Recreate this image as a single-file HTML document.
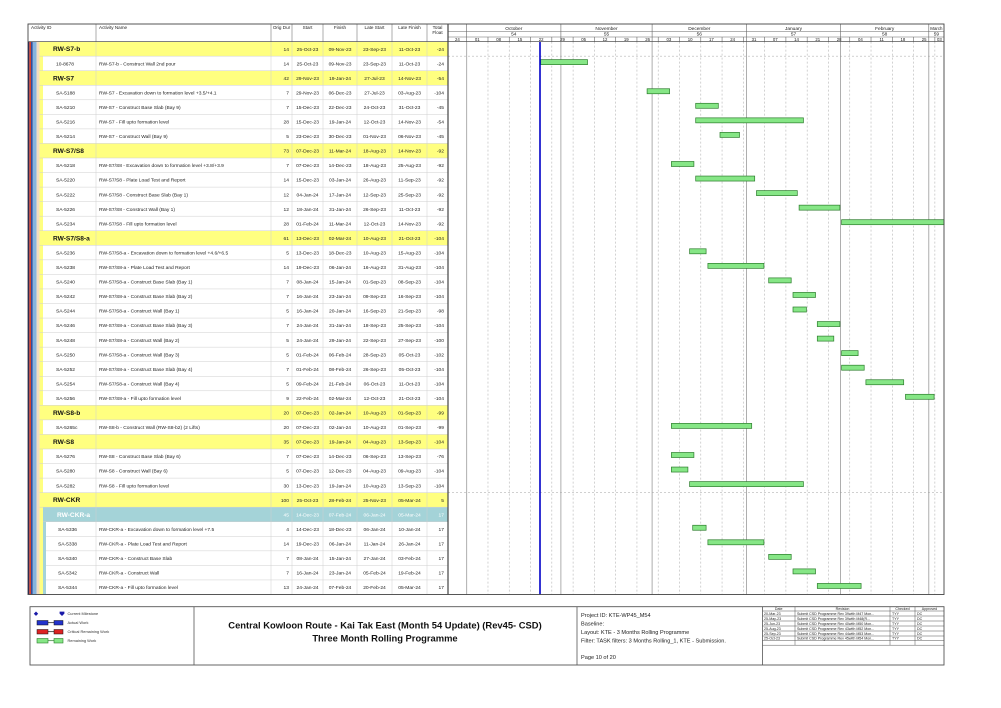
<!DOCTYPE html>
<html><head><meta charset="utf-8">
<style>
html,body{margin:0;padding:0;background:#fff;}
svg{display:block;font-family:"Liberation Sans",Arial,sans-serif;}
.t{font-size:4.9px;fill:#222;}
.g{font-size:6.6px;font-weight:bold;fill:#111;}
.gw{font-size:6.6px;font-weight:bold;fill:#fff;}
.tw{font-size:4.9px;fill:#fff;}
.e{text-anchor:end;}
.c{text-anchor:middle;}
.h{font-size:4.6px;fill:#222;}
.m{font-size:4.8px;fill:#222;text-anchor:middle;}
.d{font-size:4.3px;fill:#222;text-anchor:middle;}
.b{fill:#86e686;stroke:#2c7d2c;stroke-width:0.7;}
.lg{font-size:3.9px;fill:#333;}
.rv{font-size:3.6px;fill:#222;}
.pj{font-size:5.6px;fill:#222;}
.ti{font-size:9.4px;font-weight:bold;fill:#111;text-anchor:middle;}
</style></head><body>
<svg width="1001" height="708" viewBox="0 0 1001 708" xmlns="http://www.w3.org/2000/svg">
<rect width="1001" height="708" fill="#fff"/>

<!-- left strip -->
<rect x="28" y="41.6" width="1.3" height="552.9" fill="#1b1b5e"/>
<rect x="29.3" y="41.6" width="1.7" height="552.9" fill="#d8432e"/>
<rect x="31" y="41.6" width="1.8" height="552.9" fill="#2e4f9e"/>
<rect x="32.8" y="41.6" width="3.8" height="552.9" fill="#86b4de"/>
<rect x="36.6" y="41.6" width="2.9" height="552.9" fill="#f3dcc0"/>
<rect x="39.5" y="41.6" width="3.5" height="552.9" fill="#ffff80"/>
<rect x="43" y="507.2" width="3" height="87.3" fill="#a4d3d8"/>

<!-- group rows backgrounds -->
<g fill="#ffff80">
<rect x="39.5" y="41.6" width="408.5" height="14.55"/>
<rect x="39.5" y="70.7" width="408.5" height="14.55"/>
<rect x="39.5" y="143.45" width="408.5" height="14.55"/>
<rect x="39.5" y="230.75" width="408.5" height="14.55"/>
<rect x="39.5" y="405.35" width="408.5" height="14.55"/>
<rect x="39.5" y="434.45" width="408.5" height="14.55"/>
<rect x="39.5" y="492.65" width="408.5" height="14.55"/>
</g>
<rect x="43" y="507.2" width="405" height="14.55" fill="#a4d3d8"/>

<!-- row separators -->
<g stroke="#cfcfcf" stroke-width="0.5">
<line x1="39.5" y1="56.15" x2="448" y2="56.15"/>
<line x1="39.5" y1="70.7" x2="448" y2="70.7"/>
<line x1="39.5" y1="85.25" x2="448" y2="85.25"/>
<line x1="39.5" y1="99.8" x2="448" y2="99.8"/>
<line x1="39.5" y1="114.35" x2="448" y2="114.35"/>
<line x1="39.5" y1="128.9" x2="448" y2="128.9"/>
<line x1="39.5" y1="143.45" x2="448" y2="143.45"/>
<line x1="39.5" y1="158" x2="448" y2="158"/>
<line x1="39.5" y1="172.55" x2="448" y2="172.55"/>
<line x1="39.5" y1="187.1" x2="448" y2="187.1"/>
<line x1="39.5" y1="201.65" x2="448" y2="201.65"/>
<line x1="39.5" y1="216.2" x2="448" y2="216.2"/>
<line x1="39.5" y1="230.75" x2="448" y2="230.75"/>
<line x1="39.5" y1="245.3" x2="448" y2="245.3"/>
<line x1="39.5" y1="259.85" x2="448" y2="259.85"/>
<line x1="39.5" y1="274.4" x2="448" y2="274.4"/>
<line x1="39.5" y1="288.95" x2="448" y2="288.95"/>
<line x1="39.5" y1="303.5" x2="448" y2="303.5"/>
<line x1="39.5" y1="318.05" x2="448" y2="318.05"/>
<line x1="39.5" y1="332.6" x2="448" y2="332.6"/>
<line x1="39.5" y1="347.15" x2="448" y2="347.15"/>
<line x1="39.5" y1="361.7" x2="448" y2="361.7"/>
<line x1="39.5" y1="376.25" x2="448" y2="376.25"/>
<line x1="39.5" y1="390.8" x2="448" y2="390.8"/>
<line x1="39.5" y1="405.35" x2="448" y2="405.35"/>
<line x1="39.5" y1="419.9" x2="448" y2="419.9"/>
<line x1="39.5" y1="434.45" x2="448" y2="434.45"/>
<line x1="39.5" y1="449" x2="448" y2="449"/>
<line x1="39.5" y1="463.55" x2="448" y2="463.55"/>
<line x1="39.5" y1="478.1" x2="448" y2="478.1"/>
<line x1="39.5" y1="492.65" x2="448" y2="492.65"/>
<line x1="39.5" y1="507.2" x2="448" y2="507.2"/>
<line x1="43" y1="521.75" x2="448" y2="521.75"/>
<line x1="46" y1="536.3" x2="448" y2="536.3"/>
<line x1="46" y1="550.85" x2="448" y2="550.85"/>
<line x1="46" y1="565.4" x2="448" y2="565.4"/>
<line x1="46" y1="579.95" x2="448" y2="579.95"/>
</g>
<!-- body column dividers -->
<g stroke="#cfcfcf" stroke-width="0.5">
<line x1="96" y1="41.6" x2="96" y2="594.5"/>
<line x1="271" y1="41.6" x2="271" y2="594.5"/>
<line x1="292" y1="41.6" x2="292" y2="594.5"/>
<line x1="323" y1="41.6" x2="323" y2="594.5"/>
<line x1="357" y1="41.6" x2="357" y2="594.5"/>
<line x1="392" y1="41.6" x2="392" y2="594.5"/>
<line x1="427" y1="41.6" x2="427" y2="594.5"/>
</g>

<!-- gantt grid -->
<g stroke="#b4b4b4" stroke-width="0.6" stroke-dasharray="2 2">
<line x1="487.98" y1="41.6" x2="487.98" y2="594.5"/>
<line x1="509.26" y1="41.6" x2="509.26" y2="594.5"/>
<line x1="530.54" y1="41.6" x2="530.54" y2="594.5"/>
<line x1="551.82" y1="41.6" x2="551.82" y2="594.5"/>
<line x1="573.1" y1="41.6" x2="573.1" y2="594.5"/>
<line x1="594.38" y1="41.6" x2="594.38" y2="594.5"/>
<line x1="615.66" y1="41.6" x2="615.66" y2="594.5"/>
<line x1="636.94" y1="41.6" x2="636.94" y2="594.5"/>
<line x1="658.22" y1="41.6" x2="658.22" y2="594.5"/>
<line x1="679.5" y1="41.6" x2="679.5" y2="594.5"/>
<line x1="700.78" y1="41.6" x2="700.78" y2="594.5"/>
<line x1="722.06" y1="41.6" x2="722.06" y2="594.5"/>
<line x1="743.34" y1="41.6" x2="743.34" y2="594.5"/>
<line x1="764.62" y1="41.6" x2="764.62" y2="594.5"/>
<line x1="785.9" y1="41.6" x2="785.9" y2="594.5"/>
<line x1="807.18" y1="41.6" x2="807.18" y2="594.5"/>
<line x1="828.46" y1="41.6" x2="828.46" y2="594.5"/>
<line x1="849.74" y1="41.6" x2="849.74" y2="594.5"/>
<line x1="871.02" y1="41.6" x2="871.02" y2="594.5"/>
<line x1="892.3" y1="41.6" x2="892.3" y2="594.5"/>
<line x1="913.58" y1="41.6" x2="913.58" y2="594.5"/>
<line x1="934.86" y1="41.6" x2="934.86" y2="594.5"/>
<line x1="448" y1="56.15" x2="944" y2="56.15"/>
<line x1="448" y1="492.65" x2="944" y2="492.65"/>
</g>
<g stroke="#9a9a9a" stroke-width="0.8">
<line x1="466.7" y1="41.6" x2="466.7" y2="594.5"/>
<line x1="560.9" y1="41.6" x2="560.9" y2="594.5"/>
<line x1="652.1" y1="41.6" x2="652.1" y2="594.5"/>
<line x1="746.4" y1="41.6" x2="746.4" y2="594.5"/>
<line x1="840.6" y1="41.6" x2="840.6" y2="594.5"/>
<line x1="928.8" y1="41.6" x2="928.8" y2="594.5"/>
</g>

<!-- ROWS -->
<g transform="translate(0,41.6)">
<text x="53" y="9.6" class="g">RW-S7-b</text>
<text x="289" y="9.2" class="t e">14</text><text x="307.5" y="9.2" class="t c">25-Oct-23</text><text x="340" y="9.2" class="t c">09-Nov-23</text><text x="374.5" y="9.2" class="t c">23-Sep-23</text><text x="409.5" y="9.2" class="t c">11-Oct-23</text><text x="444" y="9.2" class="t e">-24</text>
</g>
<g transform="translate(0,56.15)">
<text x="56" y="9.2" class="t">10-8678</text><text x="99" y="9.2" class="t">RW-S7-b - Construct Wall 2nd pour</text>
<text x="289" y="9.2" class="t e">14</text><text x="307.5" y="9.2" class="t c">25-Oct-23</text><text x="340" y="9.2" class="t c">09-Nov-23</text><text x="374.5" y="9.2" class="t c">23-Sep-23</text><text x="409.5" y="9.2" class="t c">11-Oct-23</text><text x="444" y="9.2" class="t e">-24</text>
<rect x="540.7" y="3.5" width="46.8" height="5" class="b"/>
</g>
<g transform="translate(0,70.7)">
<text x="53" y="9.6" class="g">RW-S7</text>
<text x="289" y="9.2" class="t e">42</text><text x="307.5" y="9.2" class="t c">29-Nov-23</text><text x="340" y="9.2" class="t c">19-Jan-24</text><text x="374.5" y="9.2" class="t c">27-Jul-23</text><text x="409.5" y="9.2" class="t c">14-Nov-23</text><text x="444" y="9.2" class="t e">-54</text>
</g>
<g transform="translate(0,85.25)">
<text x="56" y="9.2" class="t">SA-5188</text><text x="99" y="9.2" class="t">RW-S7 - Excavation down to formation level +3.5/+4.1</text>
<text x="289" y="9.2" class="t e">7</text><text x="307.5" y="9.2" class="t c">29-Nov-23</text><text x="340" y="9.2" class="t c">06-Dec-23</text><text x="374.5" y="9.2" class="t c">27-Jul-23</text><text x="409.5" y="9.2" class="t c">03-Aug-23</text><text x="444" y="9.2" class="t e">-104</text>
<rect x="647.1" y="3.5" width="22.5" height="5" class="b"/>
</g>
<g transform="translate(0,99.8)">
<text x="56" y="9.2" class="t">SA-5210</text><text x="99" y="9.2" class="t">RW-S7 - Construct Base Slab (Bay 9)</text>
<text x="289" y="9.2" class="t e">7</text><text x="307.5" y="9.2" class="t c">15-Dec-23</text><text x="340" y="9.2" class="t c">22-Dec-23</text><text x="374.5" y="9.2" class="t c">24-Oct-23</text><text x="409.5" y="9.2" class="t c">31-Oct-23</text><text x="444" y="9.2" class="t e">-45</text>
<rect x="695.7" y="3.5" width="22.6" height="5" class="b"/>
</g>
<g transform="translate(0,114.35)">
<text x="56" y="9.2" class="t">SA-5216</text><text x="99" y="9.2" class="t">RW-S7 - Fill upto formation level</text>
<text x="289" y="9.2" class="t e">28</text><text x="307.5" y="9.2" class="t c">15-Dec-23</text><text x="340" y="9.2" class="t c">19-Jan-24</text><text x="374.5" y="9.2" class="t c">12-Oct-23</text><text x="409.5" y="9.2" class="t c">14-Nov-23</text><text x="444" y="9.2" class="t e">-54</text>
<rect x="695.7" y="3.5" width="107.7" height="5" class="b"/>
</g>
<g transform="translate(0,128.9)">
<text x="56" y="9.2" class="t">SA-5214</text><text x="99" y="9.2" class="t">RW-S7 - Construct Wall (Bay 9)</text>
<text x="289" y="9.2" class="t e">5</text><text x="307.5" y="9.2" class="t c">23-Dec-23</text><text x="340" y="9.2" class="t c">30-Dec-23</text><text x="374.5" y="9.2" class="t c">01-Nov-23</text><text x="409.5" y="9.2" class="t c">06-Nov-23</text><text x="444" y="9.2" class="t e">-45</text>
<rect x="720" y="3.5" width="19.5" height="5" class="b"/>
</g>
<g transform="translate(0,143.45)">
<text x="53" y="9.6" class="g">RW-S7/S8</text>
<text x="289" y="9.2" class="t e">73</text><text x="307.5" y="9.2" class="t c">07-Dec-23</text><text x="340" y="9.2" class="t c">11-Mar-24</text><text x="374.5" y="9.2" class="t c">18-Aug-23</text><text x="409.5" y="9.2" class="t c">14-Nov-23</text><text x="444" y="9.2" class="t e">-92</text>
</g>
<g transform="translate(0,158)">
<text x="56" y="9.2" class="t">SA-5218</text><text x="99" y="9.2" class="t">RW-S7/S8 - Excavation down to formation level +3.8/+3.9</text>
<text x="289" y="9.2" class="t e">7</text><text x="307.5" y="9.2" class="t c">07-Dec-23</text><text x="340" y="9.2" class="t c">14-Dec-23</text><text x="374.5" y="9.2" class="t c">18-Aug-23</text><text x="409.5" y="9.2" class="t c">25-Aug-23</text><text x="444" y="9.2" class="t e">-92</text>
<rect x="671.4" y="3.5" width="22.5" height="5" class="b"/>
</g>
<g transform="translate(0,172.55)">
<text x="56" y="9.2" class="t">SA-5220</text><text x="99" y="9.2" class="t">RW-S7/S8 - Plate Load Test and Report</text>
<text x="289" y="9.2" class="t e">14</text><text x="307.5" y="9.2" class="t c">15-Dec-23</text><text x="340" y="9.2" class="t c">03-Jan-24</text><text x="374.5" y="9.2" class="t c">26-Aug-23</text><text x="409.5" y="9.2" class="t c">11-Sep-23</text><text x="444" y="9.2" class="t e">-92</text>
<rect x="695.7" y="3.5" width="59" height="5" class="b"/>
</g>
<g transform="translate(0,187.1)">
<text x="56" y="9.2" class="t">SA-5222</text><text x="99" y="9.2" class="t">RW-S7/S8 - Construct Base Slab (Bay 1)</text>
<text x="289" y="9.2" class="t e">12</text><text x="307.5" y="9.2" class="t c">04-Jan-24</text><text x="340" y="9.2" class="t c">17-Jan-24</text><text x="374.5" y="9.2" class="t c">12-Sep-23</text><text x="409.5" y="9.2" class="t c">25-Sep-23</text><text x="444" y="9.2" class="t e">-92</text>
<rect x="756.5" y="3.5" width="40.8" height="5" class="b"/>
</g>
<g transform="translate(0,201.65)">
<text x="56" y="9.2" class="t">SA-5226</text><text x="99" y="9.2" class="t">RW-S7/S8 - Construct Wall (Bay 1)</text>
<text x="289" y="9.2" class="t e">12</text><text x="307.5" y="9.2" class="t c">18-Jan-24</text><text x="340" y="9.2" class="t c">31-Jan-24</text><text x="374.5" y="9.2" class="t c">26-Sep-23</text><text x="409.5" y="9.2" class="t c">11-Oct-23</text><text x="444" y="9.2" class="t e">-92</text>
<rect x="799.1" y="3.5" width="40.8" height="5" class="b"/>
</g>
<g transform="translate(0,216.2)">
<text x="56" y="9.2" class="t">SA-5234</text><text x="99" y="9.2" class="t">RW-S7/S8 - Fill upto formation level</text>
<text x="289" y="9.2" class="t e">28</text><text x="307.5" y="9.2" class="t c">01-Feb-24</text><text x="340" y="9.2" class="t c">11-Mar-24</text><text x="374.5" y="9.2" class="t c">12-Oct-23</text><text x="409.5" y="9.2" class="t c">14-Nov-23</text><text x="444" y="9.2" class="t e">-92</text>
<rect x="841.6" y="3.5" width="102.4" height="5" class="b"/>
</g>
<g transform="translate(0,230.75)">
<text x="53" y="9.6" class="g">RW-S7/S8-a</text>
<text x="289" y="9.2" class="t e">61</text><text x="307.5" y="9.2" class="t c">13-Dec-23</text><text x="340" y="9.2" class="t c">02-Mar-24</text><text x="374.5" y="9.2" class="t c">10-Aug-23</text><text x="409.5" y="9.2" class="t c">21-Oct-23</text><text x="444" y="9.2" class="t e">-104</text>
</g>
<g transform="translate(0,245.3)">
<text x="56" y="9.2" class="t">SA-5236</text><text x="99" y="9.2" class="t">RW-S7/S8-a - Excavation down to formation level +4.6/+6.5</text>
<text x="289" y="9.2" class="t e">5</text><text x="307.5" y="9.2" class="t c">13-Dec-23</text><text x="340" y="9.2" class="t c">18-Dec-23</text><text x="374.5" y="9.2" class="t c">10-Aug-23</text><text x="409.5" y="9.2" class="t c">15-Aug-23</text><text x="444" y="9.2" class="t e">-104</text>
<rect x="689.6" y="3.5" width="16.5" height="5" class="b"/>
</g>
<g transform="translate(0,259.85)">
<text x="56" y="9.2" class="t">SA-5238</text><text x="99" y="9.2" class="t">RW-S7/S8-a - Plate Load Test and Report</text>
<text x="289" y="9.2" class="t e">14</text><text x="307.5" y="9.2" class="t c">19-Dec-23</text><text x="340" y="9.2" class="t c">06-Jan-24</text><text x="374.5" y="9.2" class="t c">16-Aug-23</text><text x="409.5" y="9.2" class="t c">31-Aug-23</text><text x="444" y="9.2" class="t e">-104</text>
<rect x="707.9" y="3.5" width="56" height="5" class="b"/>
</g>
<g transform="translate(0,274.4)">
<text x="56" y="9.2" class="t">SA-5240</text><text x="99" y="9.2" class="t">RW-S7/S8-a - Construct Base Slab (Bay 1)</text>
<text x="289" y="9.2" class="t e">7</text><text x="307.5" y="9.2" class="t c">08-Jan-24</text><text x="340" y="9.2" class="t c">15-Jan-24</text><text x="374.5" y="9.2" class="t c">01-Sep-23</text><text x="409.5" y="9.2" class="t c">08-Sep-23</text><text x="444" y="9.2" class="t e">-104</text>
<rect x="768.7" y="3.5" width="22.5" height="5" class="b"/>
</g>
<g transform="translate(0,288.95)">
<text x="56" y="9.2" class="t">SA-5242</text><text x="99" y="9.2" class="t">RW-S7/S8-a - Construct Base Slab (Bay 2)</text>
<text x="289" y="9.2" class="t e">7</text><text x="307.5" y="9.2" class="t c">16-Jan-24</text><text x="340" y="9.2" class="t c">23-Jan-24</text><text x="374.5" y="9.2" class="t c">09-Sep-23</text><text x="409.5" y="9.2" class="t c">16-Sep-23</text><text x="444" y="9.2" class="t e">-104</text>
<rect x="793" y="3.5" width="22.5" height="5" class="b"/>
</g>
<g transform="translate(0,303.5)">
<text x="56" y="9.2" class="t">SA-5244</text><text x="99" y="9.2" class="t">RW-S7/S8-a - Construct Wall (Bay 1)</text>
<text x="289" y="9.2" class="t e">5</text><text x="307.5" y="9.2" class="t c">16-Jan-24</text><text x="340" y="9.2" class="t c">20-Jan-24</text><text x="374.5" y="9.2" class="t c">16-Sep-23</text><text x="409.5" y="9.2" class="t c">21-Sep-23</text><text x="444" y="9.2" class="t e">-98</text>
<rect x="793" y="3.5" width="13.4" height="5" class="b"/>
</g>
<g transform="translate(0,318.05)">
<text x="56" y="9.2" class="t">SA-5246</text><text x="99" y="9.2" class="t">RW-S7/S8-a - Construct Base Slab (Bay 3)</text>
<text x="289" y="9.2" class="t e">7</text><text x="307.5" y="9.2" class="t c">24-Jan-24</text><text x="340" y="9.2" class="t c">31-Jan-24</text><text x="374.5" y="9.2" class="t c">18-Sep-23</text><text x="409.5" y="9.2" class="t c">25-Sep-23</text><text x="444" y="9.2" class="t e">-104</text>
<rect x="817.3" y="3.5" width="22.6" height="5" class="b"/>
</g>
<g transform="translate(0,332.6)">
<text x="56" y="9.2" class="t">SA-5248</text><text x="99" y="9.2" class="t">RW-S7/S8-a - Construct Wall (Bay 2)</text>
<text x="289" y="9.2" class="t e">5</text><text x="307.5" y="9.2" class="t c">24-Jan-24</text><text x="340" y="9.2" class="t c">29-Jan-24</text><text x="374.5" y="9.2" class="t c">22-Sep-23</text><text x="409.5" y="9.2" class="t c">27-Sep-23</text><text x="444" y="9.2" class="t e">-100</text>
<rect x="817.3" y="3.5" width="16.5" height="5" class="b"/>
</g>
<g transform="translate(0,347.15)">
<text x="56" y="9.2" class="t">SA-5250</text><text x="99" y="9.2" class="t">RW-S7/S8-a - Construct Wall (Bay 3)</text>
<text x="289" y="9.2" class="t e">5</text><text x="307.5" y="9.2" class="t c">01-Feb-24</text><text x="340" y="9.2" class="t c">06-Feb-24</text><text x="374.5" y="9.2" class="t c">28-Sep-23</text><text x="409.5" y="9.2" class="t c">05-Oct-23</text><text x="444" y="9.2" class="t e">-102</text>
<rect x="841.6" y="3.5" width="16.5" height="5" class="b"/>
</g>
<g transform="translate(0,361.7)">
<text x="56" y="9.2" class="t">SA-5252</text><text x="99" y="9.2" class="t">RW-S7/S8-a - Construct Base Slab (Bay 4)</text>
<text x="289" y="9.2" class="t e">7</text><text x="307.5" y="9.2" class="t c">01-Feb-24</text><text x="340" y="9.2" class="t c">08-Feb-24</text><text x="374.5" y="9.2" class="t c">26-Sep-23</text><text x="409.5" y="9.2" class="t c">05-Oct-23</text><text x="444" y="9.2" class="t e">-104</text>
<rect x="841.6" y="3.5" width="22.6" height="5" class="b"/>
</g>
<g transform="translate(0,376.25)">
<text x="56" y="9.2" class="t">SA-5254</text><text x="99" y="9.2" class="t">RW-S7/S8-a - Construct Wall (Bay 4)</text>
<text x="289" y="9.2" class="t e">5</text><text x="307.5" y="9.2" class="t c">09-Feb-24</text><text x="340" y="9.2" class="t c">21-Feb-24</text><text x="374.5" y="9.2" class="t c">06-Oct-23</text><text x="409.5" y="9.2" class="t c">11-Oct-23</text><text x="444" y="9.2" class="t e">-104</text>
<rect x="865.9" y="3.5" width="37.8" height="5" class="b"/>
</g>
<g transform="translate(0,390.8)">
<text x="56" y="9.2" class="t">SA-5256</text><text x="99" y="9.2" class="t">RW-S7/S8-a - Fill upto formation level</text>
<text x="289" y="9.2" class="t e">9</text><text x="307.5" y="9.2" class="t c">22-Feb-24</text><text x="340" y="9.2" class="t c">02-Mar-24</text><text x="374.5" y="9.2" class="t c">12-Oct-23</text><text x="409.5" y="9.2" class="t c">21-Oct-23</text><text x="444" y="9.2" class="t e">-104</text>
<rect x="905.5" y="3.5" width="28.6" height="5" class="b"/>
</g>
<g transform="translate(0,405.35)">
<text x="53" y="9.6" class="g">RW-S8-b</text>
<text x="289" y="9.2" class="t e">20</text><text x="307.5" y="9.2" class="t c">07-Dec-23</text><text x="340" y="9.2" class="t c">02-Jan-24</text><text x="374.5" y="9.2" class="t c">10-Aug-23</text><text x="409.5" y="9.2" class="t c">01-Sep-23</text><text x="444" y="9.2" class="t e">-99</text>
</g>
<g transform="translate(0,419.9)">
<text x="56" y="9.2" class="t">SA-5265c</text><text x="99" y="9.2" class="t">RW-S8-b - Construct Wall (RW-S8-b2) (2 Lifts)</text>
<text x="289" y="9.2" class="t e">20</text><text x="307.5" y="9.2" class="t c">07-Dec-23</text><text x="340" y="9.2" class="t c">02-Jan-24</text><text x="374.5" y="9.2" class="t c">10-Aug-23</text><text x="409.5" y="9.2" class="t c">01-Sep-23</text><text x="444" y="9.2" class="t e">-99</text>
<rect x="671.4" y="3.5" width="80.3" height="5" class="b"/>
</g>
<g transform="translate(0,434.45)">
<text x="53" y="9.6" class="g">RW-S8</text>
<text x="289" y="9.2" class="t e">35</text><text x="307.5" y="9.2" class="t c">07-Dec-23</text><text x="340" y="9.2" class="t c">19-Jan-24</text><text x="374.5" y="9.2" class="t c">04-Aug-23</text><text x="409.5" y="9.2" class="t c">13-Sep-23</text><text x="444" y="9.2" class="t e">-104</text>
</g>
<g transform="translate(0,449)">
<text x="56" y="9.2" class="t">SA-5276</text><text x="99" y="9.2" class="t">RW-S8 - Construct Base Slab (Bay 6)</text>
<text x="289" y="9.2" class="t e">7</text><text x="307.5" y="9.2" class="t c">07-Dec-23</text><text x="340" y="9.2" class="t c">14-Dec-23</text><text x="374.5" y="9.2" class="t c">06-Sep-23</text><text x="409.5" y="9.2" class="t c">13-Sep-23</text><text x="444" y="9.2" class="t e">-76</text>
<rect x="671.4" y="3.5" width="22.5" height="5" class="b"/>
</g>
<g transform="translate(0,463.55)">
<text x="56" y="9.2" class="t">SA-5280</text><text x="99" y="9.2" class="t">RW-S8 - Construct Wall (Bay 6)</text>
<text x="289" y="9.2" class="t e">5</text><text x="307.5" y="9.2" class="t c">07-Dec-23</text><text x="340" y="9.2" class="t c">12-Dec-23</text><text x="374.5" y="9.2" class="t c">04-Aug-23</text><text x="409.5" y="9.2" class="t c">09-Aug-23</text><text x="444" y="9.2" class="t e">-104</text>
<rect x="671.4" y="3.5" width="16.5" height="5" class="b"/>
</g>
<g transform="translate(0,478.1)">
<text x="56" y="9.2" class="t">SA-5282</text><text x="99" y="9.2" class="t">RW-S8 - Fill upto formation level</text>
<text x="289" y="9.2" class="t e">30</text><text x="307.5" y="9.2" class="t c">13-Dec-23</text><text x="340" y="9.2" class="t c">19-Jan-24</text><text x="374.5" y="9.2" class="t c">10-Aug-23</text><text x="409.5" y="9.2" class="t c">13-Sep-23</text><text x="444" y="9.2" class="t e">-104</text>
<rect x="689.6" y="3.5" width="113.8" height="5" class="b"/>
</g>
<g transform="translate(0,492.65)">
<text x="53" y="9.6" class="g">RW-CKR</text>
<text x="289" y="9.2" class="t e">100</text><text x="307.5" y="9.2" class="t c">25-Oct-23</text><text x="340" y="9.2" class="t c">28-Feb-24</text><text x="374.5" y="9.2" class="t c">25-Nov-23</text><text x="409.5" y="9.2" class="t c">05-Mar-24</text><text x="444" y="9.2" class="t e">5</text>
</g>
<g transform="translate(0,507.2)">
<text x="57" y="9.6" class="gw">RW-CKR-a</text>
<text x="289" y="9.2" class="tw e">45</text><text x="307.5" y="9.2" class="tw c">14-Dec-23</text><text x="340" y="9.2" class="tw c">07-Feb-24</text><text x="374.5" y="9.2" class="tw c">06-Jan-24</text><text x="409.5" y="9.2" class="tw c">05-Mar-24</text><text x="444" y="9.2" class="tw e">17</text>
</g>
<g transform="translate(0,521.75)">
<text x="58" y="9.2" class="t">SA-5336</text><text x="99" y="9.2" class="t">RW-CKR-a - Excavation down to formation level +7.5</text>
<text x="289" y="9.2" class="t e">4</text><text x="307.5" y="9.2" class="t c">14-Dec-23</text><text x="340" y="9.2" class="t c">18-Dec-23</text><text x="374.5" y="9.2" class="t c">06-Jan-24</text><text x="409.5" y="9.2" class="t c">10-Jan-24</text><text x="444" y="9.2" class="t e">17</text>
<rect x="692.7" y="3.5" width="13.4" height="5" class="b"/>
</g>
<g transform="translate(0,536.3)">
<text x="58" y="9.2" class="t">SA-5338</text><text x="99" y="9.2" class="t">RW-CKR-a - Plate Load Test and Report</text>
<text x="289" y="9.2" class="t e">14</text><text x="307.5" y="9.2" class="t c">19-Dec-23</text><text x="340" y="9.2" class="t c">06-Jan-24</text><text x="374.5" y="9.2" class="t c">11-Jan-24</text><text x="409.5" y="9.2" class="t c">26-Jan-24</text><text x="444" y="9.2" class="t e">17</text>
<rect x="707.9" y="3.5" width="56" height="5" class="b"/>
</g>
<g transform="translate(0,550.85)">
<text x="58" y="9.2" class="t">SA-5340</text><text x="99" y="9.2" class="t">RW-CKR-a - Construct Base Slab</text>
<text x="289" y="9.2" class="t e">7</text><text x="307.5" y="9.2" class="t c">08-Jan-24</text><text x="340" y="9.2" class="t c">15-Jan-24</text><text x="374.5" y="9.2" class="t c">27-Jan-24</text><text x="409.5" y="9.2" class="t c">03-Feb-24</text><text x="444" y="9.2" class="t e">17</text>
<rect x="768.7" y="3.5" width="22.5" height="5" class="b"/>
</g>
<g transform="translate(0,565.4)">
<text x="58" y="9.2" class="t">SA-5342</text><text x="99" y="9.2" class="t">RW-CKR-a - Construct Wall</text>
<text x="289" y="9.2" class="t e">7</text><text x="307.5" y="9.2" class="t c">16-Jan-24</text><text x="340" y="9.2" class="t c">23-Jan-24</text><text x="374.5" y="9.2" class="t c">05-Feb-24</text><text x="409.5" y="9.2" class="t c">19-Feb-24</text><text x="444" y="9.2" class="t e">17</text>
<rect x="793" y="3.5" width="22.5" height="5" class="b"/>
</g>
<g transform="translate(0,579.95)">
<text x="58" y="9.2" class="t">SA-5344</text><text x="99" y="9.2" class="t">RW-CKR-a - Fill upto formation level</text>
<text x="289" y="9.2" class="t e">13</text><text x="307.5" y="9.2" class="t c">24-Jan-24</text><text x="340" y="9.2" class="t c">07-Feb-24</text><text x="374.5" y="9.2" class="t c">20-Feb-24</text><text x="409.5" y="9.2" class="t c">05-Mar-24</text><text x="444" y="9.2" class="t e">17</text>
<rect x="817.3" y="3.5" width="43.8" height="5" class="b"/>
</g>

<!-- data date -->
<line x1="540" y1="41.6" x2="540" y2="594.5" stroke="#0000c8" stroke-width="1.6"/>

<!-- table header -->
<rect x="28" y="24" width="420" height="17.6" fill="#fff"/>
<g stroke="#777" stroke-width="0.6">
<line x1="96" y1="24" x2="96" y2="41.6"/>
<line x1="271" y1="24" x2="271" y2="41.6"/>
<line x1="292" y1="24" x2="292" y2="41.6"/>
<line x1="323" y1="24" x2="323" y2="41.6"/>
<line x1="357" y1="24" x2="357" y2="41.6"/>
<line x1="392" y1="24" x2="392" y2="41.6"/>
<line x1="427" y1="24" x2="427" y2="41.6"/>
</g>
<text x="31" y="29" class="h">Activity ID</text>
<text x="99" y="29" class="h">Activity Name</text>
<text x="281.5" y="29" class="h c">Orig Dur</text>
<text x="307.5" y="29" class="h c">Start</text>
<text x="340" y="29" class="h c">Finish</text>
<text x="374.5" y="29" class="h c">Late Start</text>
<text x="409.5" y="29" class="h c">Late Finish</text>
<text x="437.5" y="29" class="h c">Total</text>
<text x="437.5" y="34" class="h c">Float</text>

<!-- gantt header -->
<g stroke="#666" stroke-width="0.6">
<line x1="448" y1="31.5" x2="944" y2="31.5"/>
<line x1="448" y1="37" x2="944" y2="37"/>
<line x1="466.7" y1="24" x2="466.7" y2="41.6"/>
<line x1="560.9" y1="24" x2="560.9" y2="41.6"/>
<line x1="652.1" y1="24" x2="652.1" y2="41.6"/>
<line x1="746.4" y1="24" x2="746.4" y2="41.6"/>
<line x1="840.6" y1="24" x2="840.6" y2="41.6"/>
<line x1="928.8" y1="24" x2="928.8" y2="41.6"/>
<line x1="487.98" y1="37" x2="487.98" y2="41.6"/>
<line x1="509.26" y1="37" x2="509.26" y2="41.6"/>
<line x1="530.54" y1="37" x2="530.54" y2="41.6"/>
<line x1="551.82" y1="37" x2="551.82" y2="41.6"/>
<line x1="573.1" y1="37" x2="573.1" y2="41.6"/>
<line x1="594.38" y1="37" x2="594.38" y2="41.6"/>
<line x1="615.66" y1="37" x2="615.66" y2="41.6"/>
<line x1="636.94" y1="37" x2="636.94" y2="41.6"/>
<line x1="658.22" y1="37" x2="658.22" y2="41.6"/>
<line x1="679.5" y1="37" x2="679.5" y2="41.6"/>
<line x1="700.78" y1="37" x2="700.78" y2="41.6"/>
<line x1="722.06" y1="37" x2="722.06" y2="41.6"/>
<line x1="743.34" y1="37" x2="743.34" y2="41.6"/>
<line x1="764.62" y1="37" x2="764.62" y2="41.6"/>
<line x1="785.9" y1="37" x2="785.9" y2="41.6"/>
<line x1="807.18" y1="37" x2="807.18" y2="41.6"/>
<line x1="828.46" y1="37" x2="828.46" y2="41.6"/>
<line x1="849.74" y1="37" x2="849.74" y2="41.6"/>
<line x1="871.02" y1="37" x2="871.02" y2="41.6"/>
<line x1="892.3" y1="37" x2="892.3" y2="41.6"/>
<line x1="913.58" y1="37" x2="913.58" y2="41.6"/>
<line x1="934.86" y1="37" x2="934.86" y2="41.6"/>
</g>
<text x="513.8" y="29.8" class="m">October</text>
<text x="606.5" y="29.8" class="m">November</text>
<text x="699.3" y="29.8" class="m">December</text>
<text x="793.5" y="29.8" class="m">January</text>
<text x="884.7" y="29.8" class="m">February</text>
<text x="936.4" y="29.8" class="m" style="font-size:4.4px">March</text>
<text x="513.8" y="35.6" class="m">54</text>
<text x="606.5" y="35.6" class="m">55</text>
<text x="699.3" y="35.6" class="m">56</text>
<text x="793.5" y="35.6" class="m">57</text>
<text x="884.7" y="35.6" class="m">58</text>
<text x="936.4" y="35.6" class="m">59</text>
<g>
<text x="457.4" y="40.8" class="d">24</text>
<text x="477.3" y="40.8" class="d">01</text>
<text x="498.6" y="40.8" class="d">08</text>
<text x="519.9" y="40.8" class="d">15</text>
<text x="541.2" y="40.8" class="d">22</text>
<text x="562.5" y="40.8" class="d">29</text>
<text x="583.7" y="40.8" class="d">05</text>
<text x="605" y="40.8" class="d">12</text>
<text x="626.3" y="40.8" class="d">19</text>
<text x="647.6" y="40.8" class="d">26</text>
<text x="668.9" y="40.8" class="d">03</text>
<text x="690.1" y="40.8" class="d">10</text>
<text x="711.4" y="40.8" class="d">17</text>
<text x="732.7" y="40.8" class="d">24</text>
<text x="754" y="40.8" class="d">31</text>
<text x="775.3" y="40.8" class="d">07</text>
<text x="796.5" y="40.8" class="d">14</text>
<text x="817.8" y="40.8" class="d">21</text>
<text x="839.1" y="40.8" class="d">28</text>
<text x="860.4" y="40.8" class="d">04</text>
<text x="881.7" y="40.8" class="d">11</text>
<text x="902.9" y="40.8" class="d">18</text>
<text x="924.2" y="40.8" class="d">25</text>
<text x="939.4" y="40.8" class="d">03</text>
</g>

<!-- frame -->
<line x1="28" y1="41.6" x2="944" y2="41.6" stroke="#555" stroke-width="0.8"/>
<line x1="448" y1="24" x2="448" y2="594.5" stroke="#444" stroke-width="1.2"/>
<rect x="28" y="24" width="916" height="570.5" fill="none" stroke="#444" stroke-width="0.9"/>

<!-- FOOTER -->
<rect x="30" y="606.7" width="914" height="58.3" fill="none" stroke="#555" stroke-width="0.9"/>
<line x1="194" y1="606.7" x2="194" y2="665" stroke="#555" stroke-width="0.8"/>
<line x1="577" y1="606.7" x2="577" y2="665" stroke="#555" stroke-width="0.8"/>
<line x1="762.5" y1="606.7" x2="762.5" y2="665" stroke="#555" stroke-width="0.8"/>

<!-- legend -->
<polygon points="36,611.5 38.2,613.7 36,615.9 33.8,613.7" fill="#1a1aa8"/>
<polygon points="59.6,611.6 64.4,611.6 64.4,613.6 62,616 59.6,613.6" fill="#1a1aa8"/>
<text x="67.5" y="615" class="lg">Current Milestone</text>
<rect x="37" y="620.5" width="11" height="4.5" fill="#2233cc" stroke="#111" stroke-width="0.5"/>
<line x1="48" y1="622.7" x2="54" y2="622.7" stroke="#111" stroke-width="0.7"/>
<rect x="54" y="620.5" width="9" height="4.5" fill="#2233cc" stroke="#111" stroke-width="0.5"/>
<text x="67.5" y="624" class="lg">Actual Work</text>
<rect x="37" y="629.5" width="11" height="4.5" fill="#dd2222" stroke="#111" stroke-width="0.5"/>
<line x1="48" y1="631.7" x2="54" y2="631.7" stroke="#111" stroke-width="0.7"/>
<rect x="54" y="629.5" width="9" height="4.5" fill="#dd2222" stroke="#111" stroke-width="0.5"/>
<text x="67.5" y="633" class="lg">Critical Remaining Work</text>
<rect x="37" y="638.5" width="11" height="4.5" fill="#86e686" stroke="#2c7d2c" stroke-width="0.6"/>
<line x1="48" y1="640.7" x2="54" y2="640.7" stroke="#2c7d2c" stroke-width="0.7"/>
<rect x="54" y="638.5" width="9" height="4.5" fill="#86e686" stroke="#2c7d2c" stroke-width="0.6"/>
<text x="67.5" y="642" class="lg">Remaining Work</text>

<!-- title -->
<text x="385" y="628.5" class="ti">Central Kowloon Route - Kai Tak East (Month 54 Update) (Rev45- CSD)</text>
<text x="385" y="641.5" class="ti">Three Month Rolling Programme</text>

<!-- project -->
<text x="581" y="617" class="pj">Project ID: KTE-WP45_M54</text>
<text x="581" y="625.5" class="pj">Baseline:</text>
<text x="581" y="634" class="pj">Layout: KTE - 3 Months Rolling Programme</text>
<text x="581" y="642.3" class="pj">Filter: TASK filters: 3 Months Rolling_1, KTE - Submission.</text>
<text x="581" y="659" class="pj">Page 10 of 20</text>

<!-- revision table -->
<g stroke="#555" stroke-width="0.5">
<line x1="762.5" y1="611" x2="944" y2="611"/>
<line x1="762.5" y1="616" x2="944" y2="616"/>
<line x1="762.5" y1="621" x2="944" y2="621"/>
<line x1="762.5" y1="626" x2="944" y2="626"/>
<line x1="762.5" y1="631" x2="944" y2="631"/>
<line x1="762.5" y1="636" x2="944" y2="636"/>
<line x1="762.5" y1="640.7" x2="944" y2="640.7"/>
<line x1="762.5" y1="645.2" x2="944" y2="645.2"/>
<line x1="795" y1="606.7" x2="795" y2="645.2"/>
<line x1="890" y1="606.7" x2="890" y2="645.2"/>
<line x1="915" y1="606.7" x2="915" y2="645.2"/>
</g>
<text x="778.7" y="610.2" class="rv c">Date</text>
<text x="842.5" y="610.2" class="rv c">Revision</text>
<text x="902.5" y="610.2" class="rv c">Checked</text>
<text x="929.5" y="610.2" class="rv c">Approved</text>
<g class="rv">
<text x="764" y="614.8" class="rv">20-Mar-23</text><text x="797" y="614.8" class="rv">Submit CSD Programme Rev 39with M47 Mon...</text><text x="892" y="614.8" class="rv">TYY</text><text x="917" y="614.8" class="rv">DC</text>
<text x="764" y="619.8" class="rv">25-May-23</text><text x="797" y="619.8" class="rv">Submit CSD Programme Rev 39with M48(R...</text><text x="892" y="619.8" class="rv">TYY</text><text x="917" y="619.8" class="rv">DC</text>
<text x="764" y="624.8" class="rv">25-Jun-23</text><text x="797" y="624.8" class="rv">Submit CSD Programme Rev 40with M50 Mon...</text><text x="892" y="624.8" class="rv">TYY</text><text x="917" y="624.8" class="rv">DC</text>
<text x="764" y="629.8" class="rv">25-Aug-23</text><text x="797" y="629.8" class="rv">Submit CSD Programme Rev 43with M52 Mon...</text><text x="892" y="629.8" class="rv">TYY</text><text x="917" y="629.8" class="rv">DC</text>
<text x="764" y="634.8" class="rv">25-Sep-23</text><text x="797" y="634.8" class="rv">Submit CSD Programme Rev 44with M53 Mon...</text><text x="892" y="634.8" class="rv">TYY</text><text x="917" y="634.8" class="rv">DC</text>
<text x="764" y="639.6" class="rv">25-Oct-23</text><text x="797" y="639.6" class="rv">Submit CSD Programme Rev 45with M54 Mon...</text><text x="892" y="639.6" class="rv">TYY</text><text x="917" y="639.6" class="rv">DC</text>
</g>
</svg>
</body></html>
